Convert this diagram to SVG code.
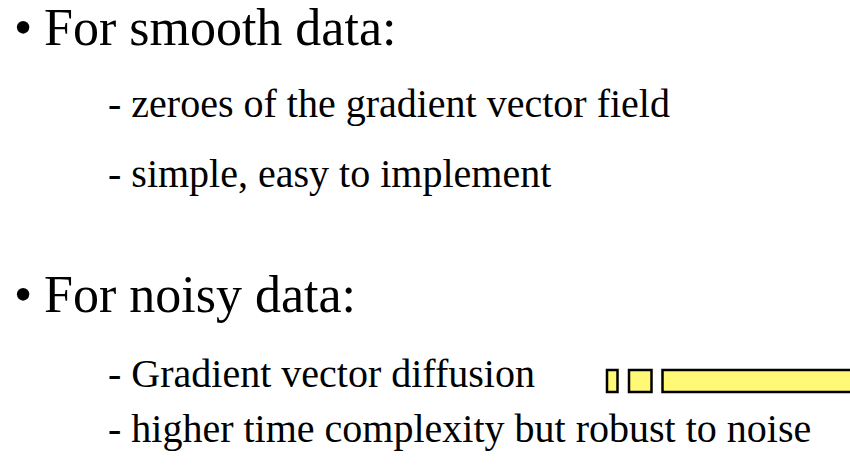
<svg xmlns="http://www.w3.org/2000/svg" width="850" height="467" viewBox="0 0 850 467">
<style>
.h{font-size:52px}
.s{font-size:40px}
.box{fill:#FFF975;stroke:#000;stroke-width:2.5}
</style>
<rect width="850" height="467" fill="#fff"/>
<g font-family="Liberation Serif, serif" fill="#000">
<g id="smooth">
<text class="h" x="14" y="45">•</text>
<text class="h" x="44" y="45">For smooth data:</text>
<text class="s" x="108" y="117">- zeroes of the gradient vector field</text>
<text class="s" x="108" y="187">- simple, easy to implement</text>
</g>
<g id="noisy">
<text class="h" x="14" y="312">•</text>
<text class="h" x="44" y="312">For noisy data:</text>
<text class="s" x="108" y="387">- Gradient vector diffusion</text>
<text class="s" x="108" y="442">- higher time complexity but robust to noise</text>
</g>
</g>
<g id="buttons">
<rect class="box" x="607" y="370" width="10.5" height="22"/>
<rect class="box" x="629" y="370" width="22.5" height="22"/>
<rect class="box" x="662.5" y="370" width="190" height="22"/>
</g>
</svg>
